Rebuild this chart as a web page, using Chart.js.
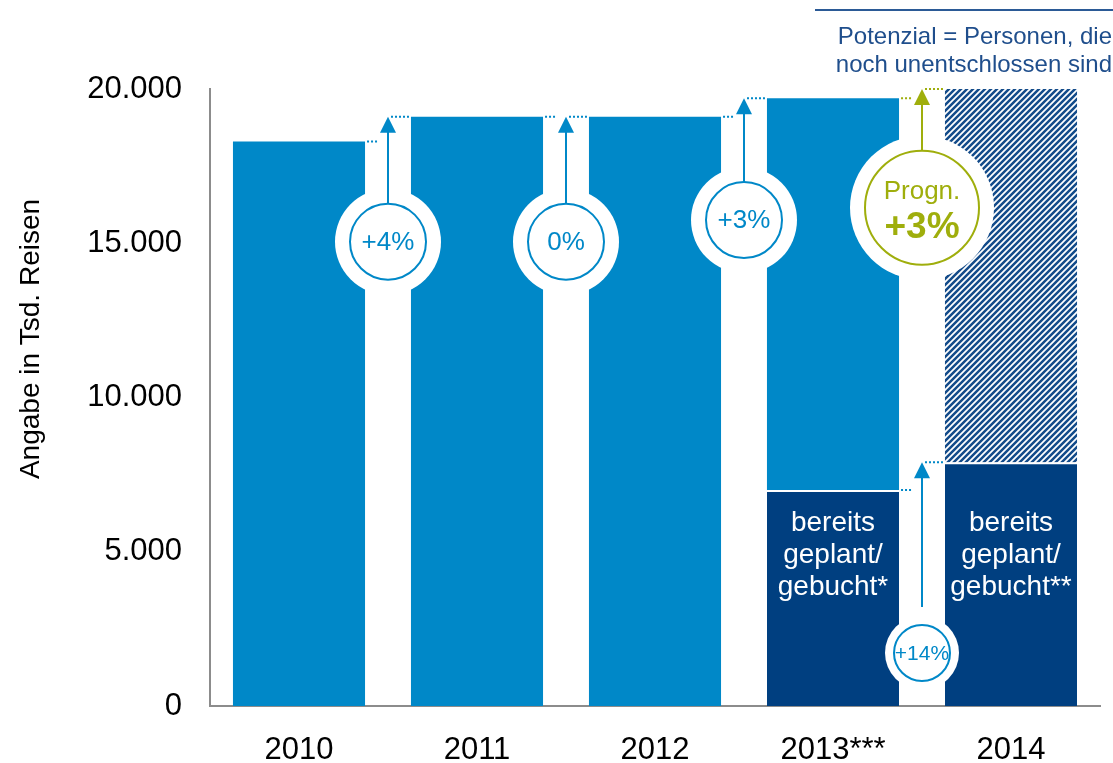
<!DOCTYPE html>
<html>
<head>
<meta charset="utf-8">
<script src="https://cdn.jsdelivr.net/npm/chart.js@4.4.0/dist/chart.umd.min.js"></script>
<style>
html, body { margin: 0; padding: 0; background: #fff; }
#chart { display: block; }
</style>
</head>
<body>
<canvas id="chart" width="1113" height="763"></canvas>
<script>
const years = ['2010', '2011', '2012', '2013***', '2014'];
const totals = [18300, 19100, 19100, 19700, 20300];
const booked = [null, null, null, 7000, 7900];
const growthLabels = ['+4%', '0%', '+3%', '+3%'];
const bookedGrowth = '+14%';
const prognLabel = 'Progn.';
const yTicks = [0, 5000, 10000, 15000, 20000];
const bookedNotes = [['bereits', 'geplant/', 'gebucht*'], ['bereits', 'geplant/', 'gebucht**']];
const potentialNote = ['Potenzial = Personen, die', 'noch unentschlossen sind'];
const yTitle = 'Angabe in Tsd. Reisen';

const LIGHT = '#0088c8';
const DARK = '#003f80';
const HATCH = '#134b8a';
const GREEN = '#9fae0c';
const NAVY = '#1f4e8c';
const FONT = '"Liberation Sans", Arial, sans-serif';

// rest of each year above the booked part
const restValues = totals.map((t, i) => i < 4 ? t - (booked[i] || 0) : null);
const potentialValues = totals.map((t, i) => i === 4 ? t - booked[i] : null);

function makeHatch() {
    const c = document.createElement('canvas');
    c.width = 6;
    c.height = 6;
    const g = c.getContext('2d');
    g.fillStyle = '#fff';
    g.fillRect(0, 0, 6, 6);
    g.strokeStyle = HATCH;
    g.lineWidth = 2.5;
    g.beginPath();
    g.moveTo(-3, 3); g.lineTo(3, -3);
    g.moveTo(0, 6); g.lineTo(6, 0);
    g.moveTo(3, 9); g.lineTo(9, 3);
    g.stroke();
    return g.createPattern(c, 'repeat');
}

function fmt(v) {
    return String(v).replace(/\B(?=(\d{3})+(?!\d))/g, '.');
}

function dotted(ctx, x1, x2, y, color) {
    ctx.save();
    ctx.strokeStyle = color;
    ctx.lineWidth = 2;
    ctx.setLineDash([2, 2]);
    ctx.beginPath();
    ctx.moveTo(x1, y);
    ctx.lineTo(x2, y);
    ctx.stroke();
    ctx.restore();
}

function arrow(ctx, x, yFrom, yTip, color) {
    ctx.save();
    ctx.strokeStyle = color;
    ctx.fillStyle = color;
    ctx.lineWidth = 2;
    ctx.beginPath();
    ctx.moveTo(x, yFrom);
    ctx.lineTo(x, yTip + 14);
    ctx.stroke();
    ctx.beginPath();
    ctx.moveTo(x, yTip);
    ctx.lineTo(x - 8, yTip + 16);
    ctx.lineTo(x + 8, yTip + 16);
    ctx.closePath();
    ctx.fill();
    ctx.restore();
}

function disc(ctx, x, y, r) {
    ctx.save();
    ctx.fillStyle = '#fff';
    ctx.beginPath();
    ctx.arc(x, y, r, 0, Math.PI * 2);
    ctx.fill();
    ctx.restore();
}

function ring(ctx, x, y, r, color) {
    ctx.save();
    ctx.strokeStyle = color;
    ctx.lineWidth = 2;
    ctx.beginPath();
    ctx.arc(x, y, r, 0, Math.PI * 2);
    ctx.stroke();
    ctx.restore();
}

const growthPlugin = {
    id: 'growth',
    afterDatasetsDraw(chart) {
        const ctx = chart.ctx;
        const xs = chart.scales.x;
        const ys = chart.scales.y;
        const half = chart.getDatasetMeta(1).data[0].width / 2;
        const yMax = ys.max;

        const gaps = [
            { from: 0, cy: 15050, rw: 53, rr: 38, color: LIGHT },
            { from: 1, cy: 15050, rw: 53, rr: 38, color: LIGHT },
            { from: 2, cy: 15750, rw: 53, rr: 38, color: LIGHT },
            { from: 3, cy: 16150, rw: 72, rr: 57, color: GREEN }
        ];
        const small = { cy: 1720, rw: 37, rr: 28 };
        const gx = i => (xs.getPixelForValue(i) + xs.getPixelForValue(i + 1)) / 2;

        gaps.forEach(g => disc(ctx, gx(g.from), ys.getPixelForValue(g.cy), g.rw));
        disc(ctx, gx(3), ys.getPixelForValue(small.cy), small.rw);

        gaps.forEach((g, k) => {
            const x = gx(g.from);
            const cy = ys.getPixelForValue(g.cy);
            const yPrev = ys.getPixelForValue(totals[g.from]);
            const yNext = ys.getPixelForValue(Math.min(totals[g.from + 1], yMax));
            dotted(ctx, xs.getPixelForValue(g.from) + half + 2, x - 10, yPrev, g.color);
            dotted(ctx, x + 3, xs.getPixelForValue(g.from + 1) - half - 2, yNext, g.color);
            arrow(ctx, x, cy - g.rr, yNext, g.color);
            ring(ctx, x, cy, g.rr, g.color);
            ctx.save();
            ctx.fillStyle = g.color;
            ctx.textAlign = 'center';
            ctx.textBaseline = 'middle';
            if (k === 3) {
                ctx.font = '26px ' + FONT;
                ctx.fillText(prognLabel, x, cy - 16);
                ctx.font = 'bold 37px ' + FONT;
                ctx.fillText(growthLabels[k], x, cy + 20);
            } else {
                ctx.font = '26px ' + FONT;
                ctx.fillText(growthLabels[k], x, cy + 1);
            }
            ctx.restore();
        });

        // booked growth 2013 -> 2014
        const x = gx(3);
        const cy = ys.getPixelForValue(small.cy);
        const yPrev = ys.getPixelForValue(booked[3]);
        const yNext = ys.getPixelForValue(booked[4]);
        dotted(ctx, xs.getPixelForValue(3) + half + 2, x - 10, yPrev, LIGHT);
        dotted(ctx, x + 3, xs.getPixelForValue(4) - half - 2, yNext, LIGHT);
        arrow(ctx, x, cy - small.rr - 18, yNext, LIGHT);
        ring(ctx, x, cy, small.rr, LIGHT);
        ctx.save();
        ctx.fillStyle = LIGHT;
        ctx.textAlign = 'center';
        ctx.textBaseline = 'middle';
        ctx.font = '21px ' + FONT;
        ctx.fillText(bookedGrowth, x, cy + 1);
        ctx.restore();

        // notes inside booked bars
        ctx.save();
        ctx.fillStyle = '#fff';
        ctx.textAlign = 'center';
        ctx.textBaseline = 'middle';
        ctx.font = '28px ' + FONT;
        bookedNotes.forEach((lines, j) => {
            const bx = xs.getPixelForValue(3 + j);
            const mid = ys.getPixelForValue(4900);
            lines.forEach((t, l) => ctx.fillText(t, bx, mid + (l - 1) * 32));
        });
        ctx.restore();

        // potential note top right
        ctx.save();
        ctx.strokeStyle = '#2b5a96';
        ctx.lineWidth = 2;
        ctx.beginPath();
        ctx.moveTo(815, 10);
        ctx.lineTo(1113, 10);
        ctx.stroke();
        ctx.fillStyle = NAVY;
        ctx.font = '24px ' + FONT;
        ctx.textAlign = 'right';
        ctx.textBaseline = 'middle';
        ctx.fillText(potentialNote[0], 1112, 37);
        ctx.fillText(potentialNote[1], 1112, 65);
        ctx.restore();

        // y axis title
        ctx.save();
        ctx.translate(31, 339);
        ctx.rotate(-Math.PI / 2);
        ctx.fillStyle = '#000';
        ctx.font = '28px ' + FONT;
        ctx.textAlign = 'center';
        ctx.textBaseline = 'middle';
        ctx.fillText(yTitle, 0, 0);
        ctx.restore();
    }
};

const chart = document.querySelector('#chart');
const myChart = new Chart(chart, {
    type: 'bar',
    data: {
        labels: years,
        datasets: [{
            label: 'gebucht',
            data: booked,
            backgroundColor: DARK,
            borderColor: '#fff',
            borderWidth: { top: 2, left: 0, right: 0, bottom: 0 },
            borderSkipped: false,
            clip: 0
        }, {
            label: 'gesamt',
            data: restValues,
            backgroundColor: LIGHT,
            borderWidth: 0,
            clip: 0
        }, {
            label: 'Potenzial',
            data: potentialValues,
            backgroundColor: makeHatch(),
            borderWidth: 0,
            clip: 0
        }]
    },
    options: {
        responsive: false,
        animation: false,
        layout: { padding: { top: 89, right: 13, left: 0, bottom: 0 } },
        datasets: {
            bar: { barPercentage: 0.742, categoryPercentage: 1 }
        },
        plugins: {
            legend: { display: false },
            tooltip: { enabled: false }
        },
        scales: {
            x: {
                stacked: true,
                grid: { display: false, drawTicks: false },
                border: { display: true, color: '#8c8c8c', width: 2 },
                ticks: {
                    color: '#000',
                    font: { family: FONT, size: 31 },
                    padding: 26,
                    autoSkip: false,
                    maxRotation: 0
                },
                afterFit: s => { s.height = 57; }
            },
            y: {
                stacked: true,
                min: 0,
                max: 20000,
                grid: { display: false, drawTicks: false },
                border: { display: true, color: '#8c8c8c', width: 2 },
                afterBuildTicks: s => { s.ticks = yTicks.map(v => ({ value: v })); },
                ticks: {
                    color: '#000',
                    font: { family: FONT, size: 31 },
                    padding: 28,
                    callback: v => fmt(v)
                },
                afterFit: s => { s.width = 210; }
            }
        }
    },
    plugins: [growthPlugin]
});
</script>
</body>
</html>
